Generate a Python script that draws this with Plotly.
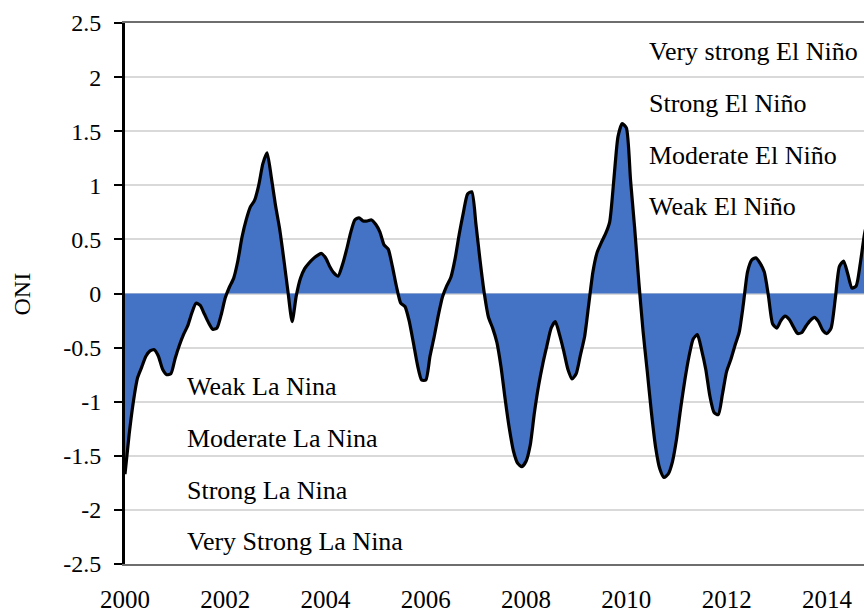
import plotly.graph_objects as go

# Monthly ONI values (Jan..Dec)
oni_2000 = [-1.67, -1.30, -1.00, -0.78, -0.68, -0.58, -0.53, -0.52, -0.58, -0.70, -0.75, -0.74]
oni_2001 = [-0.60, -0.48, -0.38, -0.30, -0.18, -0.09, -0.11, -0.19, -0.27, -0.33, -0.32, -0.20]
oni_2002 = [-0.04, 0.06, 0.14, 0.30, 0.52, 0.68, 0.80, 0.86, 1.00, 1.20, 1.30, 1.08]
oni_2003 = [0.82, 0.60, 0.32, 0.02, -0.26, -0.02, 0.14, 0.23, 0.28, 0.32, 0.35, 0.37]
oni_2004 = [0.33, 0.25, 0.19, 0.16, 0.26, 0.40, 0.56, 0.68, 0.70, 0.67, 0.67, 0.68]
oni_2005 = [0.64, 0.57, 0.45, 0.41, 0.25, 0.06, -0.09, -0.12, -0.25, -0.45, -0.66, -0.80]
oni_2006 = [-0.80, -0.58, -0.40, -0.20, -0.03, 0.07, 0.15, 0.32, 0.55, 0.75, 0.92, 0.94]
oni_2007 = [0.64, 0.30, 0.00, -0.22, -0.32, -0.45, -0.68, -0.98, -1.25, -1.46, -1.57, -1.60]
oni_2008 = [-1.55, -1.40, -1.10, -0.85, -0.65, -0.48, -0.32, -0.26, -0.38, -0.53, -0.70, -0.79]
oni_2009 = [-0.74, -0.57, -0.40, -0.10, 0.20, 0.38, 0.47, 0.55, 0.66, 1.05, 1.45, 1.57]
oni_2010 = [1.53, 1.05, 0.60, 0.10, -0.35, -0.72, -1.10, -1.42, -1.62, -1.70, -1.67, -1.56]
oni_2011 = [-1.35, -1.06, -0.80, -0.58, -0.42, -0.38, -0.52, -0.70, -0.95, -1.10, -1.12, -0.93]
oni_2012 = [-0.72, -0.61, -0.48, -0.36, -0.10, 0.20, 0.31, 0.33, 0.28, 0.20, -0.02, -0.28]
oni_2013 = [-0.32, -0.25, -0.21, -0.24, -0.31, -0.37, -0.36, -0.30, -0.25, -0.22, -0.26, -0.34]
oni_2014 = [-0.37, -0.32, -0.05, 0.25, 0.30, 0.18, 0.05, 0.07, 0.28, 0.55, 0.72]

oni = (oni_2000 + oni_2001 + oni_2002 + oni_2003 + oni_2004 + oni_2005 + oni_2006
       + oni_2007 + oni_2008 + oni_2009 + oni_2010 + oni_2011 + oni_2012 + oni_2013 + oni_2014)
start_year = 2000
years = [start_year + i / 12 for i in range(len(oni))]

x_ticks = [2000, 2002, 2004, 2006, 2008, 2010, 2012, 2014]
y_ticks = [-2.5, -2, -1.5, -1, -0.5, 0, 0.5, 1, 1.5, 2, 2.5]
y_tick_text = ["-2.5", "-2", "-1.5", "-1", "-0.5", "0", "0.5", "1", "1.5", "2", "2.5"]

el_nino_labels = ["Very strong El Niño", "Strong El Niño", "Moderate El Niño", "Weak El Niño"]
el_nino_y = [2.24, 1.76, 1.28, 0.80]
la_nina_labels = ["Weak La Nina", "Moderate La Nina", "Strong La Nina", "Very Strong La Nina"]
la_nina_y = [-0.86, -1.34, -1.82, -2.29]
el_nino_x = 2010.42
la_nina_x = 2001.2

FONT = "Liberation Serif, Times New Roman, serif"

fig = go.Figure()
fig.add_trace(go.Scatter(
    x=years, y=oni, mode="lines", fill="tozeroy", fillcolor="#4472C4",
    line=dict(color="black", width=3.2, shape="spline", smoothing=0.6),
    hoverinfo="skip", showlegend=False,
))

annotations = []
for t, yv in zip(el_nino_labels, el_nino_y):
    annotations.append(dict(x=el_nino_x, y=yv, xref="x", yref="y", text=t, showarrow=False,
                            xanchor="left", yanchor="middle", font=dict(family=FONT, size=26, color="black")))
for t, yv in zip(la_nina_labels, la_nina_y):
    annotations.append(dict(x=la_nina_x, y=yv, xref="x", yref="y", text=t, showarrow=False,
                            xanchor="left", yanchor="middle", font=dict(family=FONT, size=26, color="black")))
annotations.append(dict(x=-0.1394, y=0.5, xref="paper", yref="paper", text="ONI", textangle=-90,
                        showarrow=False, xanchor="center", yanchor="middle",
                        font=dict(family=FONT, size=24, color="black")))

fig.update_layout(
    width=864, height=613,
    margin=dict(l=125, r=0, t=23, b=46),
    paper_bgcolor="white", plot_bgcolor="white",
    font=dict(family=FONT, color="black"),
    showlegend=False,
    annotations=annotations,
    xaxis=dict(
        range=[2000, 2014.74], tickvals=x_ticks, ticktext=[str(v) for v in x_ticks],
        showgrid=False, zeroline=False, showline=True, mirror=True,
        linecolor="#6e6e6e", linewidth=2, ticks="", ticklabelstandoff=12,
        tickfont=dict(family=FONT, size=25, color="black"),
    ),
    xaxis2=dict(
        overlaying="x", matches="x", anchor="free", position=0.5,
        tickvals=x_ticks, showticklabels=False, showgrid=False, zeroline=False,
        showline=True, linecolor="#7f7f7f", linewidth=2.5,
        ticks="outside", ticklen=7, tickwidth=2, tickcolor="#c8c8c8",
        layer="above traces",
    ),
    yaxis=dict(
        range=[-2.5, 2.5], tickvals=y_ticks, ticktext=y_tick_text,
        showgrid=True, gridcolor="#d9d9d9", gridwidth=1.5, zeroline=False,
        showline=True, linecolor="black", linewidth=2.8,
        ticks="outside", ticklen=8, tickwidth=2, tickcolor="black",
        ticklabelstandoff=8,
        tickfont=dict(family=FONT, size=24, color="black"),
    ),
)

# Remove the default page margin so the 864x613 figure fills the window exactly.
fig.write_html("out.html", config={"displayModeBar": False},
               post_script="document.body.style.margin='0';document.body.style.overflow='hidden';")
